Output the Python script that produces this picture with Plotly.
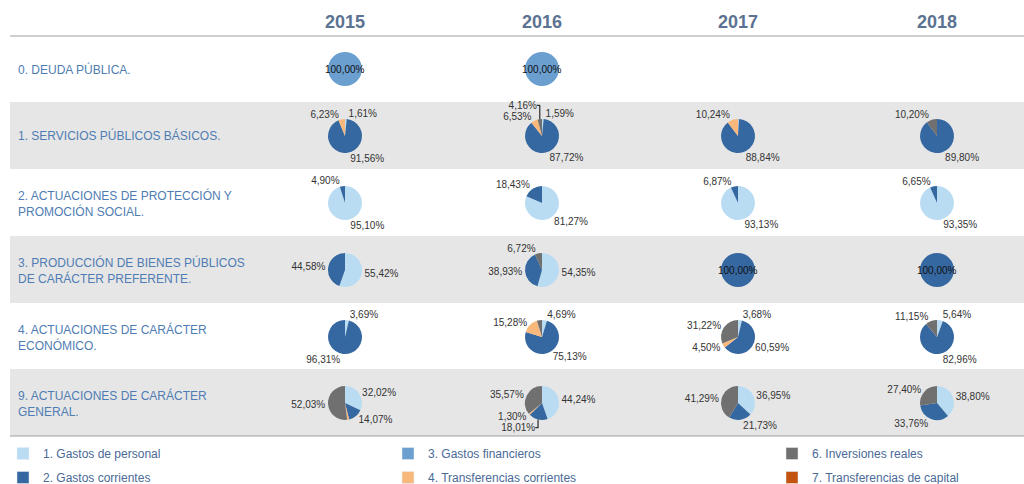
import plotly.graph_objects as go

W, H = 1024, 484

years = ["2015", "2016", "2017", "2018"]
row_labels = [
    "0. DEUDA PÚBLICA.",
    "1. SERVICIOS PÚBLICOS BÁSICOS.",
    "2. ACTUACIONES DE PROTECCIÓN Y<br>PROMOCIÓN SOCIAL.",
    "3. PRODUCCIÓN DE BIENES PÚBLICOS<br>DE CARÁCTER PREFERENTE.",
    "4. ACTUACIONES DE CARÁCTER<br>ECONÓMICO.",
    "9. ACTUACIONES DE CARÁCTER<br>GENERAL.",
]
categories = [
    "1. Gastos de personal",
    "2. Gastos corrientes",
    "3. Gastos financieros",
    "4. Transferencias corrientes",
    "6. Inversiones reales",
    "7. Transferencias de capital",
]
cat_colors = ["#b9dcf3", "#3567a0", "#6a9fcf", "#f8b87c", "#707070", "#c4530f"]

# values (%) per row (outer list) and year (inner list); None = no slice
gastos_personal = [
    [None, None, None, None],
    [1.61, 1.59, 0.92, None],
    [95.10, 81.27, 93.13, 93.35],
    [55.42, 54.35, None, None],
    [3.69, 4.69, 3.68, 5.64],
    [32.02, 44.24, 36.95, 38.80],
]
gastos_corrientes = [
    [None, None, None, None],
    [91.56, 87.72, 88.84, 89.80],
    [4.90, 18.43, 6.87, 6.65],
    [44.58, 38.93, 100.00, 100.00],
    [96.31, 75.13, 60.59, 82.96],
    [14.07, 18.01, 21.73, 33.76],
]
gastos_financieros = [
    [100.00, 100.00, None, None],
    [None, None, None, None],
    [None, None, None, None],
    [None, None, None, None],
    [None, None, None, None],
    [None, None, None, None],
]
transferencias_corrientes = [
    [None, None, None, None],
    [6.23, 6.53, 10.24, None],
    [None, None, None, None],
    [None, None, None, None],
    [None, 15.28, 4.50, None],
    [1.88, 1.30, None, None],
]
inversiones_reales = [
    [None, None, None, None],
    [None, 4.16, None, 10.20],
    [None, None, None, None],
    [None, 6.72, None, None],
    [None, 4.90, 31.22, 11.15],
    [52.03, 35.57, 41.29, 27.40],
]
transferencias_capital = [
    [None, None, None, None],
    [None, None, None, None],
    [None, None, None, None],
    [None, None, None, None],
    [None, None, None, None],
    [None, None, None, None],
]
series = [gastos_personal, gastos_corrientes, gastos_financieros,
          transferencias_corrientes, inversiones_reales, transferencias_capital]
# slices drawn without a data label in the original: (row, year, category)
unlabeled = [(1, 2, 0), (4, 1, 4), (5, 0, 3)]

# layout geometry (pixels)
col_x = [345, 542, 738, 937]
row_y = [69, 136, 203, 270, 337, 403]
row_top = [36, 102, 169, 236, 303, 369]
row_bottom = 436
R = 17

FONT = "Liberation Sans, Arial, sans-serif"


def px(x):
    return x / W


def py(y):
    return 1 - y / H


def fmt(v):
    return f"{v:.2f}".replace(".", ",") + "%"


fig = go.Figure()
annotations = []
shapes = []

# alternating row bands
for i in range(len(row_labels)):
    top = row_top[i]
    bot = row_top[i + 1] if i + 1 < len(row_top) else row_bottom
    if i % 2 == 1:
        shapes.append(dict(type="rect", xref="paper", yref="paper", layer="below",
                           x0=px(10), x1=1, y0=py(bot), y1=py(top),
                           fillcolor="#e6e6e6", line=dict(width=0)))
shapes.append(dict(type="line", xref="paper", yref="paper", layer="below",
                   x0=px(10), x1=1, y0=py(36), y1=py(36),
                   line=dict(color="#a0a0a0", width=1.2)))
shapes.append(dict(type="line", xref="paper", yref="paper", layer="below",
                   x0=px(10), x1=1, y0=py(row_bottom), y1=py(row_bottom),
                   line=dict(color="#a0a0a0", width=1.2)))

# year headers
for j, yr in enumerate(years):
    annotations.append(dict(x=px(col_x[j]), y=py(22), xref="paper", yref="paper",
                            text=f"<b>{yr}</b>", showarrow=False,
                            font=dict(family=FONT, size=18, color="#5b7291"),
                            xanchor="center", yanchor="middle"))

# row labels
for i, lab in enumerate(row_labels):
    annotations.append(dict(x=px(16), y=py(row_y[i]), xref="paper", yref="paper",
                            text=lab, showarrow=False, align="left",
                            font=dict(family=FONT, size=12, color="#4f7db3"),
                            xanchor="left", yanchor="middle"))

# pies
for i in range(len(row_labels)):
    for j in range(len(years)):
        labels, values, colors, texts = [], [], [], []
        for k, s in enumerate(series):
            v = s[i][j]
            if v is None:
                continue
            labels.append(categories[k])
            values.append(v)
            colors.append(cat_colors[k])
            texts.append("" if (i, j, k) in unlabeled else fmt(v))
        if not values:
            continue
        cx, cy = col_x[j], row_y[i]
        single = len(values) == 1
        fig.add_trace(go.Pie(
            labels=labels, values=values, sort=False, direction="clockwise",
            rotation=0, showlegend=False,
            marker=dict(colors=colors, line=dict(width=0)),
            text=texts, texttemplate="%{text}",
            textposition="none" if single else "outside",
            outsidetextfont=dict(family=FONT, size=10, color="#333333"),
            hoverinfo="label+value",
            domain=dict(x=[px(cx - R), px(cx + R)], y=[py(cy + R), py(cy - R)]),
        ))
        if single:
            annotations.append(dict(x=px(cx), y=py(cy), xref="paper", yref="paper",
                                    text=fmt(values[0]), showarrow=False,
                                    font=dict(family=FONT, size=10, color="#111111"),
                                    xanchor="center", yanchor="middle"))

# legend entries (three columns, two items each)
legend_cols = [[0, 1], [2, 3], [4, 5]]
legend_names = ["legend", "legend2", "legend3"]
for c, idxs in enumerate(legend_cols):
    for k in idxs:
        fig.add_trace(go.Bar(x=[None], y=[None], name=categories[k],
                             marker_color=cat_colors[k], legend=legend_names[c],
                             legendgroup=categories[k], showlegend=True))

legend_x = [3, 388, 772]
leg_common = dict(yanchor="top", xanchor="left", orientation="v",
                  font=dict(family=FONT, size=12, color="#4a6a98"),
                  tracegroupgap=5, bgcolor="rgba(0,0,0,0)", y=py(439))
layout_legends = {}
for c, name in enumerate(legend_names):
    layout_legends[name] = dict(x=px(legend_x[c]), **leg_common)

fig.update_layout(
    width=W, height=H,
    margin=dict(l=0, r=0, t=0, b=0, autoexpand=False),
    paper_bgcolor="white", plot_bgcolor="rgba(0,0,0,0)",
    xaxis=dict(visible=False), yaxis=dict(visible=False),
    shapes=shapes, annotations=annotations,
    font=dict(family=FONT),
    **layout_legends,
)

fig.write_html("out.html", config={"displayModeBar": False},
               post_script="document.body.style.margin='0px';")
